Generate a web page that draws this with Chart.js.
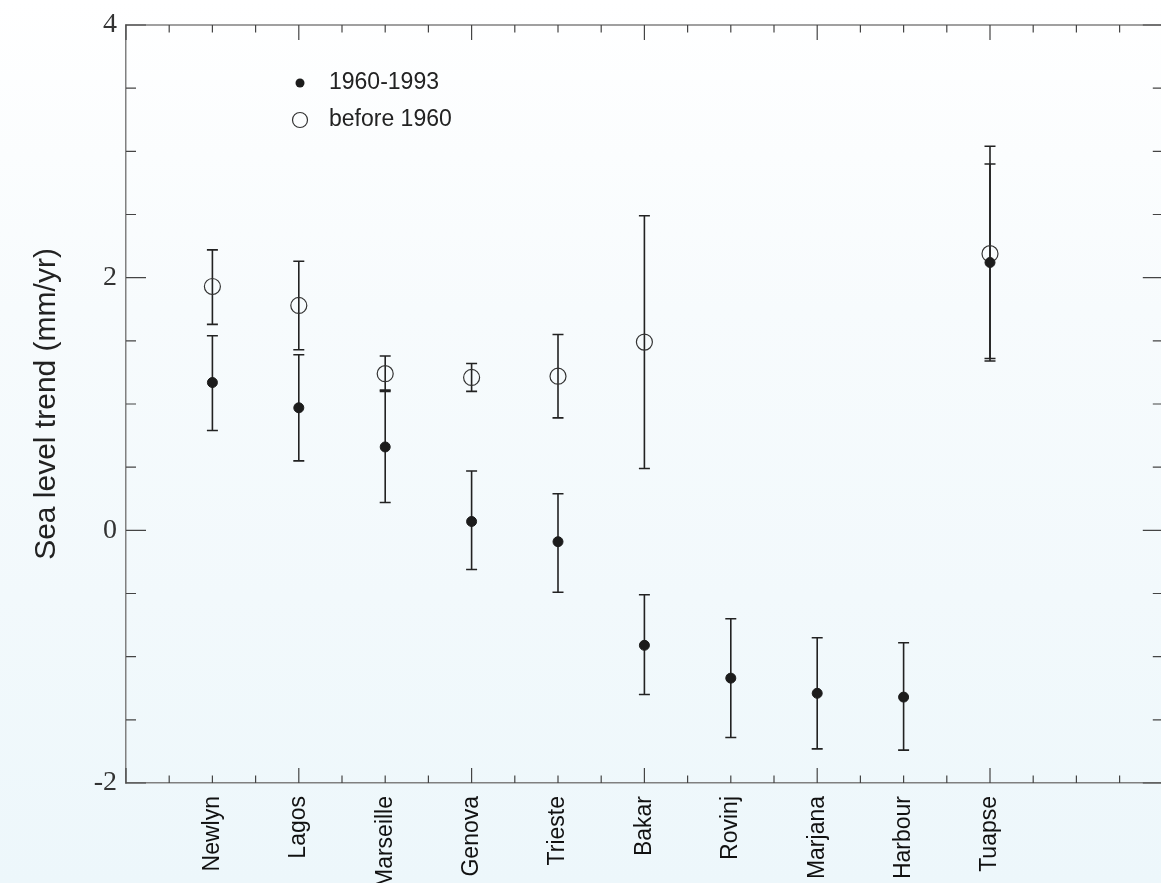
<!DOCTYPE html>
<html lang="en">
<head>
    <meta charset="UTF-8">
    <title>Sea level trend</title>
    <script src="https://cdn.jsdelivr.net/npm/chart.js"></script>
    <style>
        html, body {
            margin: 0;
            padding: 0;
            overflow: hidden;
        }
        body {
            width: 1161px;
            height: 883px;
            background: linear-gradient(to bottom, #ffffff 0%, #f7fbfd 35%, #edf7fb 100%);
        }
        #grafico {
            display: block;
        }
    </style>
</head>
<body>

    <canvas id="grafico" width="1172" height="883"></canvas>

    <script>
        // stations along the x axis (positions 1..10)
        const stations = ['Newlyn', 'Lagos', 'Marseille', 'Genova', 'Trieste', 'Bakar', 'Rovinj', 'Marjana', 'Harbour', 'Tuapse'];

        // 1960-1993 trends (filled dots) and error bar ends
        const recent     = [1.17, 0.97, 0.66, 0.07, -0.09, -0.91, -1.17, -1.29, -1.32, 2.12];
        const recentLow  = [0.79, 0.55, 0.22, -0.31, -0.49, -1.30, -1.64, -1.73, -1.74, 1.36];
        const recentHigh = [1.54, 1.39, 1.10, 0.47, 0.29, -0.51, -0.70, -0.85, -0.89, 2.90];

        // before 1960 trends (open circles) and error bar ends
        const early     = [1.93, 1.78, 1.24, 1.21, 1.22, 1.49, null, null, null, 2.19];
        const earlyLow  = [1.63, 1.43, 1.11, 1.10, 0.89, 0.49, null, null, null, 1.34];
        const earlyHigh = [2.22, 2.13, 1.38, 1.32, 1.55, 2.49, null, null, null, 3.04];

        // labelled y values
        const yTickLabels = [-2, 0, 2, 4];

        const toPoints = vals => vals.map((v, i) => ({ x: i + 1, y: v })).filter(p => p.y !== null);

        const errorBars = [
            { low: recentLow, high: recentHigh },
            { low: earlyLow, high: earlyHigh }
        ];

        // error bars, inward ticks on all four sides and the legend
        const framePlugin = {
            id: 'framePlugin',
            beforeDatasetsDraw(chart) {
                const ctx = chart.ctx;
                const xs = chart.scales.x, ys = chart.scales.y;
                ctx.save();
                ctx.strokeStyle = '#222';
                ctx.lineWidth = 1.6;
                errorBars.forEach(bar => {
                    bar.low.forEach((lo, i) => {
                        const hi = bar.high[i];
                        if (lo === null || hi === null) return;
                        const px = xs.getPixelForValue(i + 1);
                        const y1 = ys.getPixelForValue(lo);
                        const y2 = ys.getPixelForValue(hi);
                        ctx.beginPath();
                        ctx.moveTo(px, y1); ctx.lineTo(px, y2);
                        ctx.moveTo(px - 5.5, y1); ctx.lineTo(px + 5.5, y1);
                        ctx.moveTo(px - 5.5, y2); ctx.lineTo(px + 5.5, y2);
                        ctx.stroke();
                    });
                });
                ctx.restore();
            },
            afterDraw(chart) {
                const ctx = chart.ctx;
                const a = chart.chartArea;
                const xs = chart.scales.x, ys = chart.scales.y;
                ctx.save();

                // top frame line
                ctx.strokeStyle = '#808080';
                ctx.lineWidth = 1.5;
                ctx.beginPath();
                ctx.moveTo(a.left, a.top); ctx.lineTo(a.right, a.top);
                ctx.stroke();

                ctx.strokeStyle = '#444';
                ctx.lineWidth = 1.2;
                ctx.beginPath();
                xs.ticks.forEach(t => {
                    const px = xs.getPixelForValue(t.value);
                    const len = (t.value % 2 === 0) ? 15 : 7.5;
                    ctx.moveTo(px, a.bottom); ctx.lineTo(px, a.bottom - len);
                    ctx.moveTo(px, a.top); ctx.lineTo(px, a.top + len);
                });
                ys.ticks.forEach(t => {
                    const py = ys.getPixelForValue(t.value);
                    const len = (t.value % 2 === 0) ? 20 : 10;
                    ctx.moveTo(a.left, py); ctx.lineTo(a.left + len, py);
                    ctx.moveTo(a.right, py); ctx.lineTo(a.right - len, py);
                });
                ctx.stroke();

                // legend
                ctx.font = '23px "Liberation Sans", Arial, sans-serif';
                ctx.textBaseline = 'middle';
                chart.data.datasets.forEach((ds, i) => {
                    const ly = 83 + i * 37;
                    ctx.beginPath();
                    if (i === 0) {
                        ctx.arc(300, ly, 4.5, 0, Math.PI * 2);
                        ctx.fillStyle = ds.pointBackgroundColor;
                        ctx.fill();
                    } else {
                        ctx.arc(300, ly, 7.5, 0, Math.PI * 2);
                        ctx.strokeStyle = ds.pointBorderColor;
                        ctx.lineWidth = 1.2;
                        ctx.stroke();
                    }
                    ctx.fillStyle = '#222';
                    ctx.fillText(ds.label, 329, ly);
                });
                ctx.restore();
            }
        };

        const ctx = document.getElementById('grafico').getContext('2d');
        const grafico = new Chart(ctx, {
            type: 'scatter',
            data: {
                datasets: [
                    {
                        label: '1960-1993',
                        data: toPoints(recent),
                        pointRadius: 5,
                        pointBackgroundColor: '#1c1c1c',
                        pointBorderColor: '#1c1c1c',
                        pointBorderWidth: 1
                    },
                    {
                        label: 'before 1960',
                        data: toPoints(early),
                        pointRadius: 8,
                        pointBackgroundColor: 'rgba(0,0,0,0)',
                        pointBorderColor: '#333',
                        pointBorderWidth: 1.2
                    }
                ]
            },
            options: {
                responsive: false,
                devicePixelRatio: 1,
                animation: false,
                events: [],
                layout: {
                    padding: { top: 25, right: 1, left: 0, bottom: 0 }
                },
                plugins: {
                    legend: { display: false },
                    tooltip: { enabled: false }
                },
                scales: {
                    x: {
                        type: 'linear',
                        min: 0,
                        max: 12,
                        grid: { display: false, drawTicks: false },
                        border: { display: true, color: '#808080', width: 1.5 },
                        ticks: {
                            stepSize: 0.5,
                            autoSkip: false,
                            minRotation: 90,
                            maxRotation: 90,
                            padding: 13,
                            color: '#111',
                            font: { family: '"Liberation Sans", Arial, sans-serif', size: 23 },
                            callback: v => (Number.isInteger(v) && v >= 1 && v <= stations.length) ? stations[v - 1] : ''
                        },
                        afterFit: s => {
                            s.height = 100;
                            s.paddingLeft = 0;
                            s.paddingRight = 0;
                        }
                    },
                    y: {
                        min: -2,
                        max: 4,
                        grid: { display: false, drawTicks: false },
                        border: { display: true, color: '#808080', width: 1.5 },
                        ticks: {
                            stepSize: 0.5,
                            autoSkip: false,
                            padding: 9,
                            color: '#333',
                            font: { family: '"Liberation Serif", "Times New Roman", serif', size: 28 },
                            callback: v => yTickLabels.includes(v) ? String(v) : ''
                        },
                        title: {
                            display: true,
                            text: 'Sea level trend (mm/yr)',
                            color: '#222',
                            font: { family: '"Liberation Sans", Arial, sans-serif', size: 30 },
                            padding: { top: 29, bottom: 0 }
                        },
                        afterFit: s => {
                            s.width = 126;
                            s.paddingTop = 0;
                            s.paddingBottom = 0;
                        }
                    }
                }
            },
            plugins: [framePlugin]
        });
    </script>

</body>
</html>
